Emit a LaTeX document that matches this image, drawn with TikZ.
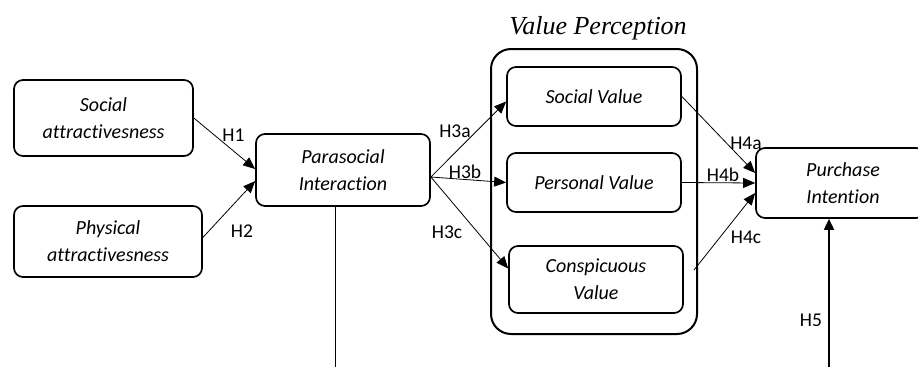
\documentclass[tikz,border=0pt]{standalone}
\usepackage{fontspec}
\setmainfont{Carlito}[Ligatures=NoCommon]
\newfontfamily\titlefont{Liberation Serif}
\usetikzlibrary{arrows.meta,calc}
\tikzset{
  cbox/.style={draw, line width=1.7pt, rounded corners=9pt, align=center,
    font=\fontsize{20}{27}\selectfont\itshape, inner sep=0pt},
  conn/.style={line width=0.8pt, -{Triangle[length=12pt,width=10pt]}},
  hlab/.style={font=\fontsize{19.5}{22}\selectfont, inner sep=0pt}
}
\begin{document}
\begin{tikzpicture}[x=1pt,y=-1pt]
\useasboundingbox (0,0) rectangle (918,367);
% outer group box
\draw[line width=2pt, rounded corners=20pt] (491,49) rectangle (697,334);
\node[font=\fontsize{26}{30}\selectfont\titlefont\itshape, inner sep=0pt] (title) at (598,28) {Value Perception};
% boxes
\node[cbox, minimum width=179pt, minimum height=76pt] (soc) at (103.5,118) {Social\\attractivesness};
\node[cbox, minimum width=188pt, minimum height=71pt] (phy) at (108,241.5) {Physical\\attractivesness};
\node[cbox, minimum width=174pt, minimum height=72pt] (para) at (343,170) {Parasocial\\Interaction};
\node[cbox, minimum width=174pt, minimum height=59pt] (sv) at (594,96.5) {Social Value};
\node[cbox, minimum width=174pt, minimum height=59pt] (pv) at (594,182.5) {Personal Value};
\node[cbox, minimum width=174pt, minimum height=67pt] (cv) at (596,279.5) {Conspicuous\\Value};
\node[cbox, minimum width=169pt, minimum height=70pt, text width=169pt] (pi) at (840.5,183) {\hspace*{5pt}Purchase\\\hspace*{5pt}Intention};
% free ends
\coordinate (o) at ([yshift=-7pt]para.east);
\coordinate (c4) at (694,270);
\coordinate (h5s) at (829,367);
\coordinate (p5) at (335,367);
% connectors
\draw[conn] (soc.east) -- ([yshift=1pt]para.west);
\draw[conn] ([yshift=4pt]phy.east) -- ([yshift=-11pt]para.west);
\draw[conn] (o) -- ([yshift=-5pt]sv.west);
\draw[conn] (o) -- (pv.west);
\draw[conn] (o) -- ([yshift=11pt]cv.west);
\draw[conn] (sv.east) -- ([yshift=10pt]pi.west);
\draw[conn] (pv.east) -- (pi.west);
\draw[conn] (c4) -- ([yshift=-10pt]pi.west);
\draw[line width=1.8pt, -{Triangle[length=11pt,width=10pt]}] (h5s) -- (pi.south -| h5s);
\draw[line width=0.8pt] (para.south -| p5) -- (p5);
% labels
\node[hlab] (l1) at (233.5,135) {H1};
\node[hlab] (l2) at (242,231) {H2};
\node[hlab] (l3a) at (455,131) {H3a};
\node[hlab] (l3b) at (465,172) {H3b};
\node[hlab] (l3c) at (447,232) {H3c};
\node[hlab] (l4a) at (746,143) {H4a};
\node[hlab] (l4b) at (723,175) {H4b};
\node[hlab] (l4c) at (746,237) {H4c};
\node[hlab] (l5) at (811,320) {H5};
\end{tikzpicture}
\end{document}
